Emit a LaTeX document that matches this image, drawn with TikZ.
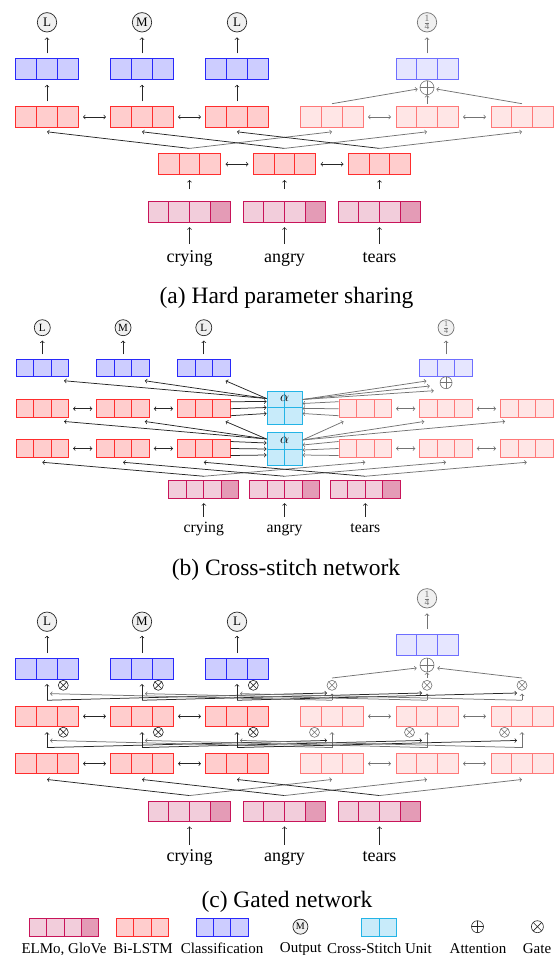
\documentclass[tikz,border=0pt]{standalone}
\usepackage{fontspec}
\setmainfont{Liberation Serif}

\definecolor{embline}{RGB}{200,20,90}
\definecolor{embfill}{RGB}{242,205,219}
\definecolor{embdark}{RGB}{228,155,182}
\definecolor{lstmline}{RGB}{255,45,45}
\definecolor{lstmfill}{RGB}{255,205,205}
\definecolor{lstmlinel}{RGB}{255,120,120}
\definecolor{lstmfilll}{RGB}{255,230,230}
\definecolor{clsline}{RGB}{40,40,250}
\definecolor{clsfill}{RGB}{205,205,255}
\definecolor{clslinel}{RGB}{110,110,255}
\definecolor{clsfilll}{RGB}{230,230,255}
\definecolor{csline}{RGB}{35,180,230}
\definecolor{csfill}{RGB}{200,235,250}
\definecolor{outfill}{RGB}{240,240,240}

\def\cellw{20.67pt}
\def\cellh{20.6pt}
\tikzset{
  cellsize/.code 2 args={\def\cellw{#1}\def\cellh{#2}},
  cells/.style n args={3}{minimum width=#1*\cellw, minimum height=\cellh, inner sep=0pt,
    line width=1pt, draw=#2,
    path picture={
      \fill[#3] ([xshift={(#1-1)*\cellw}]path picture bounding box.south west) rectangle (path picture bounding box.north east);
      \foreach \c in {2,...,#1}
        \draw[#2, line width=1pt] ([xshift={(\c-1)*\cellw}]path picture bounding box.south west)
          -- ([xshift={(\c-1)*\cellw}]path picture bounding box.north west);
    }},
  smallbox/.style={cellsize={17.5pt}{17.5pt}},
  legbox/.style={cellsize={17.4pt}{17.7pt}},
  emb/.style={cells={4}{embline}{embdark}, fill=embfill},
  lstm/.style={cells={3}{lstmline}{lstmfill}, fill=lstmfill},
  lstml/.style={cells={3}{lstmlinel}{lstmfilll}, fill=lstmfilll},
  cls/.style={cells={3}{clsline}{clsfill}, fill=clsfill},
  clsl/.style={cells={3}{clslinel}{clsfilll}, fill=clsfilll},
  csu/.style={draw=csline, fill=csfill, line width=1pt, minimum width=35pt, minimum height=33pt, inner sep=0pt,
    path picture={\draw[csline, line width=1pt] (path picture bounding box.north) -- (path picture bounding box.south)
      (path picture bounding box.west) -- (path picture bounding box.east);}},
  outc/.style={circle, draw=black!85, fill=outfill, line width=0.7pt, inner sep=0pt, minimum size=19.4pt,
    font=\fontsize{13}{13}\selectfont},
  outcl/.style={outc, draw=black!55, text=black!55, font=\fontsize{9.5}{9.5}\selectfont},
  outcs/.style={minimum size=16pt, font=\fontsize{11}{11}\selectfont},
  gate/.style={circle, draw=#1, line width=0.6pt, inner sep=0pt, minimum size=10pt,
    path picture={\draw[#1, line width=0.6pt] (path picture bounding box.north west) -- (path picture bounding box.south east)
      (path picture bounding box.north east) -- (path picture bounding box.south west);}},
  gate/.default=black!85,
  att/.style={circle, draw=#1, line width=0.6pt, inner sep=0pt, minimum size=14pt,
    path picture={\draw[#1, line width=0.6pt] (path picture bounding box.north) -- (path picture bounding box.south)
      (path picture bounding box.west) -- (path picture bounding box.east);}},
  att/.default=black!55,
  ar/.style={->, black!85, line width=0.75pt},
  arl/.style={->, black!55, line width=0.75pt},
  lnk/.style={<->, black!85, line width=0.75pt},
  lnkl/.style={<->, black!55, line width=0.75pt},
  word/.style={inner sep=0pt, font=\fontsize{18}{18}\selectfont, text height=12.6pt, text depth=4.5pt},
  words/.style={font=\fontsize{15.7}{16}\selectfont, text height=11pt, text depth=3.9pt},
  capt/.style={inner sep=0pt, font=\fontsize{23.5}{24}\selectfont},
  legtxt/.style={inner sep=0pt, anchor=base, font=\fontsize{15}{15}\selectfont}
}

\begin{document}
\begin{tikzpicture}[x=1pt, y=-1pt]
\useasboundingbox (0,0) rectangle (556,955);

% (a)
\foreach \i/\lab in {1/L,2/M,3/L}{
  \node[outc] (outA\i) at ({47+95*(\i-1)},22.3) {\lab};
  \node[cls] (clsA\i) at ({47+95*(\i-1)},69.3) {};
  \node[lstm] (lstmA\i) at ({47+95*(\i-1)},117) {};
}
\foreach \i in {4,5,6}
  \node[lstml] (lstmA\i) at ({47+95*(\i-1)},117) {};
\node[outcl] (outA5) at (427,22.3) {$\frac{\mbox{1}}{\mbox{4}}$};
\node[clsl] (clsA5) at (427,69.3) {};
\node[att] (attA) at (427,87.7) {};
\foreach \i/\w in {1/crying,2/angry,3/tears}{
  \node[lstm] (shA\i) at ({189.5+95*(\i-1)},164.2) {};
  \node[emb] (embA\i) at ({189.5+95*(\i-1)},212) {};
  \node[word] (wordA\i) at ({189.5+95*(\i-1)},258.3) {\w};
}
\foreach \i/\j in {1/4,2/5,3/6}{
  \draw[ar] ([yshift=5pt]clsA\i.north) -- ([yshift=-5pt]outA\i.south);
  \draw[ar] ([yshift=4.7pt]lstmA\i.north) -- ([yshift=-4.7pt]clsA\i.south);
  \draw[ar] ([yshift=5pt]shA\i.north) -- ([yshift=-4pt]lstmA\i.south);
  \draw[arl] ([yshift=5pt]shA\i.north) -- ([yshift=-4pt]lstmA\j.south);
  \draw[ar] ([yshift=12pt]embA\i.north) -- ([yshift=-5pt]shA\i.south);
  \draw[ar] ([yshift=5.5pt]wordA\i.north) -- ([yshift=-4.4pt]embA\i.south);
}
\draw[arl] ([yshift=5pt]clsA5.north) -- ([yshift=-5pt]outA5.south);
\draw[arl] ([yshift=2.5pt]lstmA4.north) -- ([xshift=-2pt,yshift=-1.3pt]attA.west);
\draw[arl] ([yshift=2.5pt]lstmA5.north) -- (attA.south);
\draw[arl] ([yshift=2.5pt]lstmA6.north) -- ([xshift=2pt,yshift=-1.3pt]attA.east);
\foreach \a/\b in {1/2,2/3}{
  \draw[lnk] ([xshift=4.5pt]lstmA\a.east) -- ([xshift=-4.5pt]lstmA\b.west);
  \draw[lnk] ([xshift=4.5pt]shA\a.east) -- ([xshift=-4.5pt]shA\b.west);
}
\foreach \a/\b in {4/5,5/6}
  \draw[lnkl] ([xshift=4.5pt]lstmA\a.east) -- ([xshift=-4.5pt]lstmA\b.west);
\node[capt] (capA) at (286.5,298) {(a) Hard parameter sharing};

% (b)
\foreach \k/\lab in {0/L,1/M,2/L}{
  \node[outc, outcs] (outB\k) at ({42.3+80.75*\k},327.7) {\lab};
  \node[smallbox, cls] (clsB\k) at ({42.3+80.75*\k},368) {};
  \node[smallbox, lstm] (topB\k) at ({42.3+80.75*\k},408.7) {};
  \node[smallbox, lstm] (botB\k) at ({42.3+80.75*\k},448.5) {};
}
\foreach \k in {4,5,6}{
  \node[smallbox, lstml] (topB\k) at ({42.3+80.75*\k},408.7) {};
  \node[smallbox, lstml] (botB\k) at ({42.3+80.75*\k},448.5) {};
}
\node[outcl, minimum size=16pt, font=\fontsize{8}{8}\selectfont] (outB5) at (446.05,327.7) {$\frac{\mbox{1}}{\mbox{4}}$};
\node[smallbox, clsl] (clsB5) at (446.05,368) {};
\node[att, minimum size=12pt] (attB) at (446.05,382.7) {};
\node[csu] (csB1) at (284.55,407.5) {};
\node[csu] (csB2) at (284.55,449) {};
\node[inner sep=0pt, font=\fontsize{14}{14}\selectfont] (alB1) at ([yshift=-8.3pt]csB1.north) {$\alpha$};
\node[inner sep=0pt, font=\fontsize{14}{14}\selectfont] (alB2) at ([yshift=-8.3pt]csB2.north) {$\alpha$};
\foreach \k/\w in {2/crying,3/angry,4/tears}{
  \node[smallbox, emb] (embB\k) at ({42.3+80.75*\k},489.5) {};
  \node[word, words] (wordB\k) at ({42.3+80.75*\k},529.3) {\w};
}
\foreach \k in {0,1,2}{
  \draw[ar] ([yshift=4.5pt]clsB\k.north) -- ([yshift=-4.5pt]outB\k.south);
  \draw[ar] ([yshift=9pt]csB1.west) -- ([xshift=-5pt,yshift=-3.5pt]clsB\k.south east);
  \draw[ar] ([yshift=10pt]csB2.west) -- ([xshift=-5pt,yshift=-3.5pt]topB\k.south east);
}
\draw[arl] ([yshift=4.5pt]clsB5.north) -- ([yshift=-4.5pt]outB5.south);
\foreach \s/\e/\f in {7/6/4,0/0/-1,-7/-6/-6}{
  \draw[ar] ([yshift=\s pt]topB2.east) -- ([yshift=\e pt]csB1.west);
  \draw[ar] ([yshift=\s pt]botB2.east) -- ([yshift=\e pt]csB2.west);
  \draw[arl] ([yshift=\s pt]topB4.west) -- ([yshift=\f pt]csB1.east);
  \draw[arl] ([yshift=\s pt]botB4.west) -- ([yshift=\f pt]csB2.east);
}
\foreach \dx/\dy in {-13.3/1.7,-10/-3.3,-6/-8}
  \draw[arl] ([yshift=8pt]csB1.east) -- ([xshift=\dx pt,yshift=\dy pt]attB.west);
\foreach \k in {4,5,6}
  \draw[arl] ([yshift=9pt]csB2.east) -- ([xshift=5pt,yshift=-3.5pt]topB\k.south west);
\foreach \a/\b in {0/1,1/2}{
  \draw[lnk] ([xshift=4pt]topB\a.east) -- ([xshift=-4pt]topB\b.west);
  \draw[lnk] ([xshift=4pt]botB\a.east) -- ([xshift=-4pt]botB\b.west);
}
\foreach \a/\b in {4/5,5/6}{
  \draw[lnkl] ([xshift=4pt]topB\a.east) -- ([xshift=-4pt]topB\b.west);
  \draw[lnkl] ([xshift=4pt]botB\a.east) -- ([xshift=-4pt]botB\b.west);
}
\foreach \e/\l/\r in {2/0/4,3/1/5,4/2/6}{
  \draw[ar] ([yshift=4pt]embB\e.north) -- ([yshift=-4.5pt]botB\l.south);
  \draw[arl] ([yshift=4pt]embB\e.north) -- ([yshift=-4.5pt]botB\r.south);
  \draw[ar] ([yshift=5pt]wordB\e.north) -- ([yshift=-4.4pt]embB\e.south);
}
\node[capt] (capB) at (286,570) {(b) Cross-stitch network};

% (c)
\foreach \i/\lab in {1/L,2/M,3/L}{
  \node[outc] (outC\i) at ({47+95*(\i-1)},621.7) {\lab};
  \node[cls] (clsC\i) at ({47+95*(\i-1)},668.85) {};
  \node[gate] (gtC\i) at ({63.3+95*(\i-1)},685.3) {};
  \node[lstm] (upC\i) at ({47+95*(\i-1)},716.35) {};
  \node[gate] (gmC\i) at ({63.3+95*(\i-1)},732.2) {};
  \node[lstm] (lowC\i) at ({47+95*(\i-1)},763.65) {};
}
\foreach \i in {4,5,6}{
  \node[gate=black!55] (gtC\i) at ({47+95*(\i-1)},685.3) {};
  \node[lstml] (upC\i) at ({47+95*(\i-1)},716.35) {};
  \node[gate=black!55] (gmC\i) at ({29.5+95*(\i-1)},732.3) {};
  \node[lstml] (lowC\i) at ({47+95*(\i-1)},763.65) {};
}
\node[outcl] (outC5) at (427,598.3) {$\frac{\mbox{1}}{\mbox{4}}$};
\node[clsl] (clsC5) at (427,645) {};
\node[att] (attC) at (427,665) {};
\foreach \k/\w in {1/crying,2/angry,3/tears}{
  \node[emb] (embC\k) at ({189.5+95*(\k-1)},811.35) {};
  \node[word] (wordC\k) at ({189.5+95*(\k-1)},857.7) {\w};
}
\foreach \i/\j in {1/4,2/5,3/6}{
  \draw[ar] ([yshift=5pt]clsC\i.north) -- ([yshift=-4pt]outC\i.south);
  \draw[ar] ([yshift=5.3pt]upC\i.north) -- ([yshift=-4.3pt]clsC\i.south);
  \draw[arl] ([yshift=5.3pt]upC\j.north) -- ([yshift=-3pt]gtC\j.south);
  \draw[ar] ([yshift=5.3pt]upC\i.north) -- ([xshift=-5pt,yshift=-2.4pt]gtC\j.south);
  \draw[arl] ([yshift=5.3pt]upC\j.north) -- ([xshift=3pt,yshift=-14pt]clsC\i.south);
  \draw[ar] ([yshift=5.3pt]lowC\i.north) -- ([yshift=-5pt]upC\i.south);
  \draw[arl] ([yshift=5.3pt]lowC\j.north) -- ([yshift=-5pt]upC\j.south);
  \draw[ar] ([yshift=5.3pt]lowC\i.north) -- ([xshift=-5pt,yshift=-13.3pt]upC\j.south);
  \draw[arl] ([yshift=5.3pt]lowC\j.north) -- ([xshift=3pt,yshift=-13.3pt]upC\i.south);
  \draw[ar] ([yshift=5pt]embC\i.north) -- ([yshift=-5pt]lowC\i.south);
  \draw[arl] ([yshift=5pt]embC\i.north) -- ([yshift=-5pt]lowC\j.south);
  \draw[ar] ([yshift=4pt]wordC\i.north) -- ([yshift=-4.3pt]embC\i.south);
}
\draw[arl] ([yshift=5pt]clsC5.north) -- ([yshift=-5pt]outC5.south);
\draw[arl] ([yshift=2pt]gtC4.north) -- ([xshift=-3pt,yshift=-3pt]attC.west);
\draw[arl] ([yshift=2pt]gtC5.north) -- (attC.south);
\draw[arl] ([yshift=2pt]gtC6.north) -- ([xshift=3pt,yshift=-3pt]attC.east);
\foreach \a/\b in {1/2,2/3}{
  \draw[lnk] ([xshift=4.5pt]upC\a.east) -- ([xshift=-4.5pt]upC\b.west);
  \draw[lnk] ([xshift=4.5pt]lowC\a.east) -- ([xshift=-4.5pt]lowC\b.west);
}
\foreach \a/\b in {4/5,5/6}{
  \draw[lnkl] ([xshift=4.5pt]upC\a.east) -- ([xshift=-4.5pt]upC\b.west);
  \draw[lnkl] ([xshift=4.5pt]lowC\a.east) -- ([xshift=-4.5pt]lowC\b.west);
}
\node[capt] (capC) at (287,901.7) {(c) Gated network};

% legend
\node[legbox, emb] (legEmb) at (64,927.2) {};
\node[legbox, lstm] (legLstm) at (142.5,927.2) {};
\node[legbox, cls] (legCls) at (222.2,927.2) {};
\node[outc, minimum size=15pt, font=\fontsize{10}{10}\selectfont] (legOut) at (300.4,926.7) {M};
\node[legbox, cells={2}{csline}{csfill}, fill=csfill] (legCs) at (379.3,927.2) {};
\node[att=black!85, minimum size=12pt] (legAtt) at (477.5,926.7) {};
\node[gate, minimum size=12pt] (legGate) at (537.4,926.7) {};
\node[legtxt] (labEmb) at (64,953) {ELMo, GloVe};
\node[legtxt] (labLstm) at (143,953) {Bi-LSTM};
\node[legtxt] (labCls) at (222,953) {Classification};
\node[legtxt] (labOut) at (300.8,952) {Output};
\node[legtxt] (labCs) at (379.5,953) {Cross-Stitch Unit};
\node[legtxt] (labAtt) at (478,953) {Attention};
\node[legtxt] (labGate) at (537,953) {Gate};
\end{tikzpicture}
\end{document}
